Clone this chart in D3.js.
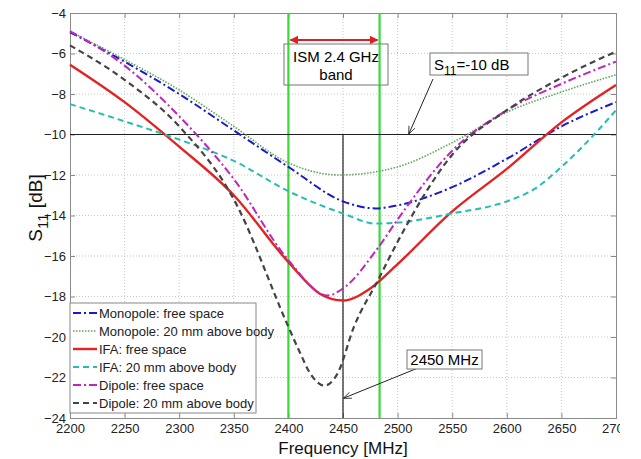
<!DOCTYPE html>
<html>
<head>
<meta charset="utf-8">
<script src="https://cdn.jsdelivr.net/npm/d3@7"></script>
<style>
body { margin: 0; background: #fff; }
text { font-family: Arial, "Liberation Sans", sans-serif; }
</style>
</head>
<body>
<script>
// x tick values and y tick values
let xTicks = [2200, 2250, 2300, 2350, 2400, 2450, 2500, 2550, 2600, 2650, 2700]
let yTicks = [-4, -6, -8, -10, -12, -14, -16, -18, -20, -22, -24]

// the six curves (frequency MHz, S11 dB)
let monoFreeF = [2200, 2250, 2300, 2350, 2400, 2450, 2480, 2500, 2550, 2600, 2650, 2700]
let monoFreeV = [-4.95, -6.4, -8.0, -9.8, -11.6, -13.3, -13.65, -13.5, -12.6, -11.2, -9.6, -8.4]

let monoBodyF = [2200, 2250, 2300, 2350, 2400, 2447, 2500, 2550, 2600, 2650, 2700]
let monoBodyV = [-4.9, -6.3, -7.8, -9.6, -11.4, -12.0, -11.6, -10.4, -8.9, -7.9, -7.05]

let ifaFreeF = [2200, 2250, 2300, 2350, 2400, 2430, 2450, 2475, 2500, 2550, 2600, 2650, 2700]
let ifaFreeV = [-6.55, -8.4, -10.6, -13.0, -16.3, -17.9, -18.2, -17.6, -16.4, -13.8, -11.7, -9.4, -7.55]

let ifaBodyF = [2200, 2250, 2300, 2350, 2400, 2450, 2480, 2500, 2550, 2600, 2625, 2650, 2680, 2700]
let ifaBodyV = [-8.5, -9.35, -10.25, -11.3, -12.8, -13.9, -14.4, -14.35, -13.9, -13.3, -12.7, -11.6, -10.0, -8.8]

let dipFreeF = [2200, 2250, 2300, 2350, 2400, 2436, 2450, 2482, 2500, 2550, 2600, 2650, 2700]
let dipFreeV = [-4.9, -6.6, -9.1, -12.2, -16.2, -17.95, -17.6, -15.6, -14.2, -10.8, -8.8, -7.5, -6.4]

let dipBodyF = [2200, 2250, 2300, 2350, 2400, 2410, 2420, 2433, 2445, 2460, 2482, 2500, 2550, 2600, 2650, 2700]
let dipBodyV = [-5.6, -7.3, -9.6, -13.2, -19.5, -20.7, -21.8, -22.4, -21.8, -19.5, -17.2, -15.3, -11.0, -8.8, -7.2, -5.9]

let seriesNames = ["Monopole: free space", "Monopole: 20 mm above body", "IFA: free space",
  "IFA: 20 mm above body", "Dipole: free space", "Dipole: 20 mm above body"]

let ismBand = [2400, 2483.5]
let centerFreq = 2450
let threshold = -10

var svg = d3.select("body").append("svg")
  .attr("width", 620)
  .attr("height", 459)

let x = d3.scaleLinear().domain([2200, 2700]).range([70, 616])
let y = d3.scaleLinear().domain([-4, -24]).range([13, 418])

// grid
svg.selectAll(".gx").data(xTicks.slice(1, -1)).enter().append("line")
  .attr("x1", d => x(d)).attr("x2", d => x(d))
  .attr("y1", y(-4)).attr("y2", y(-24))
  .style("stroke", "#c8c8c8").style("stroke-dasharray", "1,2")
svg.selectAll(".gy").data(yTicks.slice(1, -1)).enter().append("line")
  .attr("y1", d => y(d)).attr("y2", d => y(d))
  .attr("x1", x(2200)).attr("x2", x(2700))
  .style("stroke", "#c8c8c8").style("stroke-dasharray", "1,2")

// axes (ticks inside, MATLAB style)
let xAxis = svg.append("g").attr("transform", "translate(0," + y(-24) + ")")
  .call(d3.axisBottom(x).tickValues(xTicks).tickSize(-5).tickPadding(6).tickFormat(d3.format("d")))
let yAxis = svg.append("g").attr("transform", "translate(" + x(2200) + ",0)")
  .call(d3.axisLeft(y).tickValues(yTicks).tickSize(-5).tickPadding(4).tickFormat(d3.format("d")))
svg.append("g").attr("transform", "translate(0," + y(-4) + ")")
  .call(d3.axisTop(x).tickValues(xTicks).tickSize(-5).tickFormat(""))
svg.append("g").attr("transform", "translate(" + x(2700) + ",0)")
  .call(d3.axisRight(y).tickValues(yTicks).tickSize(-5).tickFormat(""))
svg.selectAll(".domain, .tick line").style("stroke", "#8a8a8a")
svg.selectAll(".tick text").style("font-size", "13px").style("fill", "#222")
  .style("font-family", "Arial, 'Liberation Sans', sans-serif")

// green ISM band lines
svg.selectAll(".ism").data(ismBand).enter().append("line")
  .attr("x1", d => x(d)).attr("x2", d => x(d))
  .attr("y1", y(-4)).attr("y2", y(-24))
  .style("stroke", "#3ad83a").style("stroke-width", 2.2)

// -10 dB line and 2450 line
svg.append("line")
  .attr("x1", x(2200)).attr("x2", x(2700)).attr("y1", y(threshold)).attr("y2", y(threshold))
  .style("stroke", "#202020").style("stroke-width", 1.2)
svg.append("line")
  .attr("x1", x(centerFreq)).attr("x2", x(centerFreq)).attr("y1", y(threshold)).attr("y2", y(-24))
  .style("stroke", "#202020").style("stroke-width", 1.2)

// curves
let curves = [
  { f: monoFreeF, v: monoFreeV, color: "#1a1acc", dash: "8,3,2,3", w: 2 },
  { f: monoBodyF, v: monoBodyV, color: "#5aa85a", dash: "1.5,1.5", w: 1.6 },
  { f: ifaFreeF, v: ifaFreeV, color: "#e32222", dash: null, w: 2.4 },
  { f: ifaBodyF, v: ifaBodyV, color: "#22bfb0", dash: "6,4", w: 2 },
  { f: dipFreeF, v: dipFreeV, color: "#bb28bb", dash: "8,3,2,3", w: 2 },
  { f: dipBodyF, v: dipBodyV, color: "#444444", dash: "6,4", w: 2.2 }
]
let line = d3.line().x(d => x(d[0])).y(d => y(d[1])).curve(d3.curveMonotoneX)
curves.forEach(c => {
  let pts = c.f.map((f, i) => [f, c.v[i]])
  svg.append("path").datum(pts).attr("d", line)
    .style("fill", "none").style("stroke", c.color).style("stroke-width", c.w)
    .style("stroke-dasharray", c.dash)
})

// arrow markers
let defs = svg.append("defs")
defs.append("marker").attr("id", "redHead").attr("viewBox", "0 0 10 10")
  .attr("refX", 9).attr("refY", 5).attr("markerWidth", 4).attr("markerHeight", 4)
  .attr("orient", "auto-start-reverse").append("path").attr("d", "M0,0L10,5L0,10z").style("fill", "#e02020")
defs.append("marker").attr("id", "blackHead").attr("viewBox", "0 0 10 10")
  .attr("refX", 9).attr("refY", 5).attr("markerWidth", 8).attr("markerHeight", 8)
  .attr("markerUnits", "userSpaceOnUse")
  .attr("orient", "auto").append("path").attr("d", "M0,1L10,5L0,9").style("fill", "none").style("stroke", "#222")

// ISM band arrow and box
svg.append("line")
  .attr("x1", x(ismBand[0]) + 2).attr("x2", x(ismBand[1]) - 2).attr("y1", 40).attr("y2", 40)
  .style("stroke", "#e02020").style("stroke-width", 2.2)
  .attr("marker-start", "url(#redHead)").attr("marker-end", "url(#redHead)")
svg.append("rect").attr("x", 284).attr("y", 44).attr("width", 104).attr("height", 41)
  .style("fill", "white").style("stroke", "#777")
svg.append("text").attr("x", 336).attr("y", 62).attr("text-anchor", "middle")
  .style("font-size", "15px").text("ISM 2.4 GHz")
svg.append("text").attr("x", 336).attr("y", 80).attr("text-anchor", "middle")
  .style("font-size", "15px").text("band")
// redraw green over box like the original
svg.selectAll(".ism2").data(ismBand).enter().append("line")
  .attr("x1", d => x(d)).attr("x2", d => x(d))
  .attr("y1", 44).attr("y2", 85)
  .style("stroke", "#3ad83a").style("stroke-width", 2.2)

// S11 = -10 dB note
svg.append("line").attr("x1", 433).attr("y1", 79).attr("x2", 409).attr("y2", y(threshold) - 1)
  .style("stroke", "#222").attr("marker-end", "url(#blackHead)")
svg.append("rect").attr("x", 430).attr("y", 53).attr("width", 98).attr("height", 22)
  .style("fill", "white").style("stroke", "#777")
let s11 = svg.append("text").attr("x", 434).attr("y", 70).style("font-size", "15px")
s11.append("tspan").text("S")
s11.append("tspan").attr("dy", 5).style("font-size", "12px").text("11")
s11.append("tspan").attr("dy", -5).text("=-10 dB")

// 2450 MHz note
svg.append("line").attr("x1", 418).attr("y1", 368).attr("x2", x(centerFreq) + 1).attr("y2", 398)
  .style("stroke", "#222").attr("marker-end", "url(#blackHead)")
svg.append("rect").attr("x", 407).attr("y", 350).attr("width", 75).attr("height", 19)
  .style("fill", "white").style("stroke", "#777")
svg.append("text").attr("x", 444.5).attr("y", 365).attr("text-anchor", "middle")
  .style("font-size", "15px").text("2450 MHz")

// legend
let legend = svg.append("g")
legend.append("rect").attr("x", 70).attr("y", 303).attr("width", 186).attr("height", 110)
  .style("fill", "white").style("stroke", "#888")
curves.forEach((c, i) => {
  let ly = 313 + i * 18
  legend.append("line").attr("x1", 73).attr("x2", 97).attr("y1", ly).attr("y2", ly)
    .style("stroke", c.color).style("stroke-width", c.w).style("stroke-dasharray", c.dash)
  legend.append("text").attr("x", 99).attr("y", ly + 5).style("font-size", "13px")
    .style("fill", "#222").text(seriesNames[i])
})

// axis labels
svg.append("text").attr("x", 343).attr("y", 454).attr("text-anchor", "middle")
  .style("font-size", "17px").style("fill", "#111").text("Frequency [MHz]")
let yl = svg.append("text").attr("transform", "translate(42,208) rotate(-90)")
  .attr("text-anchor", "middle").style("font-size", "19px").style("fill", "#111")
yl.append("tspan").text("S")
yl.append("tspan").attr("dy", 6).style("font-size", "15px").text("11")
yl.append("tspan").attr("dy", -6).text(" [dB]")
</script>
</body>
</html>
